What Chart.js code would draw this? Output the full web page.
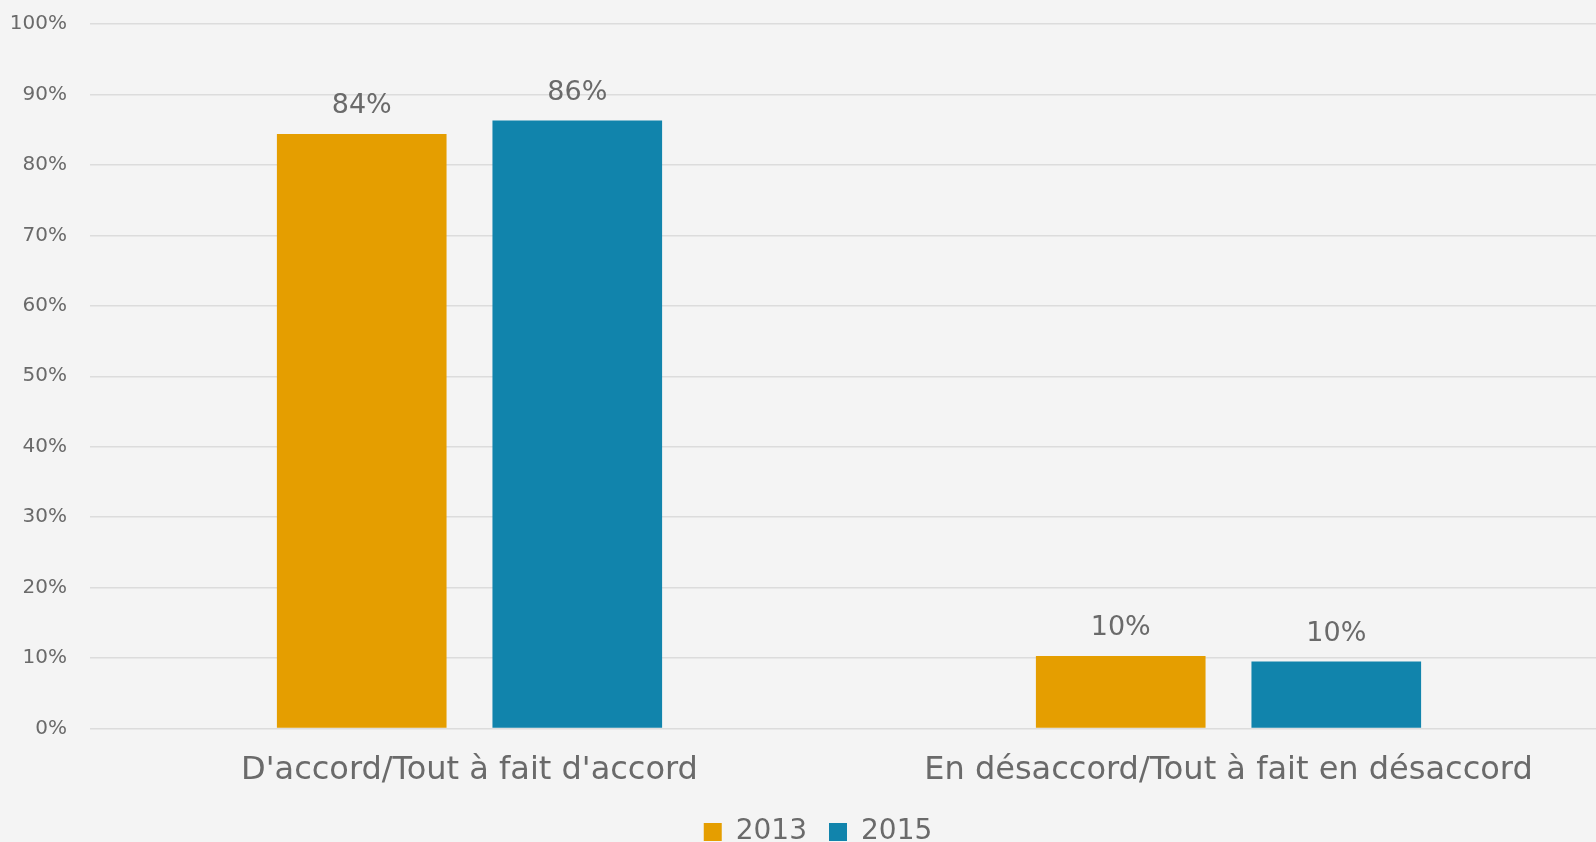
<!DOCTYPE html>
<html>
<head>
<meta charset="utf-8">
<script src="https://cdn.jsdelivr.net/npm/chart.js@4"></script>
<style>
  html, body { margin: 0; padding: 0; background: #f4f4f4; overflow: hidden; }
  #wrap { width: 1640px; height: 867px; margin-top: -11px; }
</style>
</head>
<body>
<div id="wrap"><canvas id="chart" width="1640" height="867"></canvas></div>
<script>
const categories = ["D'accord/Tout à fait d'accord", "En désaccord/Tout à fait en désaccord"];
const years = ["2013", "2015"];
const values2013 = [84.4, 10.3];
const values2015 = [86.3, 9.5];
const yTicks = [0, 10, 20, 30, 40, 50, 60, 70, 80, 90, 100];

const FONT = "'DejaVu Sans', sans-serif";
const TEXT = "#6a6a6a";

const barLabels = {
  id: "barLabels",
  afterDatasetsDraw(chart) {
    const ctx = chart.ctx;
    ctx.save();
    ctx.font = "27px " + FONT;
    ctx.fillStyle = TEXT;
    ctx.textAlign = "center";
    ctx.textBaseline = "alphabetic";
    chart.data.datasets.forEach((ds, i) => {
      chart.getDatasetMeta(i).data.forEach((bar, j) => {
        ctx.fillText(Math.round(ds.data[j]) + "%", bar.x, bar.y - 21);
      });
    });
    ctx.restore();
  },
};

// the legend sits centred on the whole canvas, not on the padded area
const legendShift = {
  id: "legendShift",
  afterLayout(chart) {
    chart.legend.left += 14;
    chart.legend.right += 14;
  },
};

new Chart(document.getElementById("chart"), {
  type: "bar",
  data: {
    labels: categories,
    datasets: [
      { label: years[0], data: values2013, backgroundColor: "#e59e00" },
      { label: years[1], data: values2015, backgroundColor: "#1184ac" },
    ],
  },
  options: {
    responsive: false,
    animation: false,
    layout: { padding: { top: 12, right: 32, bottom: 0, left: 0 } },
    datasets: { bar: { categoryPercentage: 0.568, barPercentage: 0.787 } },
    plugins: {
      tooltip: { enabled: false },
      legend: {
        position: "bottom",
        labels: {
          font: { family: FONT, size: 28 },
          color: TEXT,
          boxWidth: 18,
          boxHeight: 18,
          padding: 22,
        },
      },
    },
    scales: {
      x: {
        grid: { display: false },
        border: { display: false },
        ticks: { font: { family: FONT, size: 32 }, color: TEXT, padding: 15 },
        afterFit(scale) { scale.height = 67.5; },
      },
      y: {
        min: 0,
        max: 100,
        afterBuildTicks(scale) { scale.ticks = yTicks.map((v) => ({ value: v })); },
        grid: { color: "#dcdcdc", lineWidth: 1.5, drawTicks: false },
        border: { display: false },
        ticks: {
          font: { family: FONT, size: 20 },
          color: TEXT,
          padding: 23,
          callback: (v) => v + "%",
        },
        afterFit(scale) { scale.width = 90; },
      },
    },
  },
  plugins: [barLabels, legendShift],
});
</script>
</body>
</html>
